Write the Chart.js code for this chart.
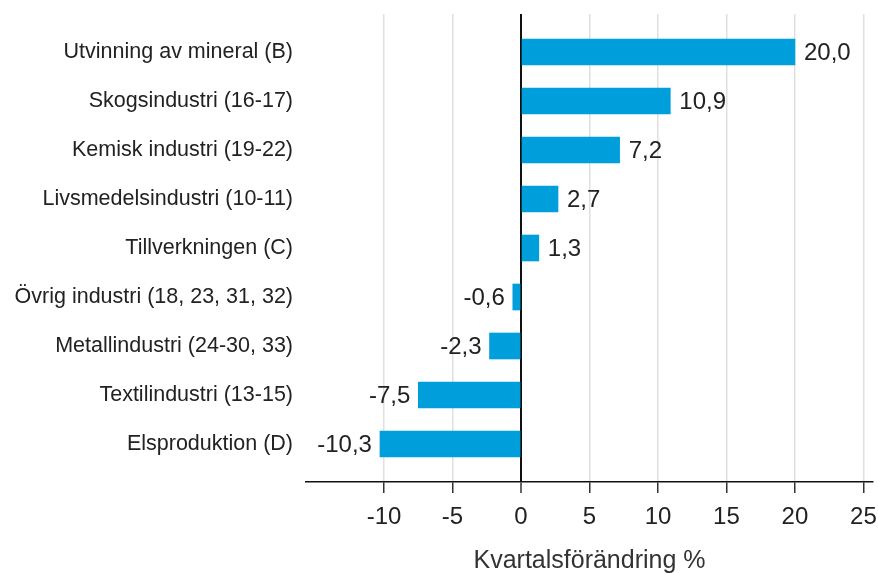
<!DOCTYPE html>
<html>
<head>
<meta charset="utf-8">
<script src="https://cdn.jsdelivr.net/npm/chart.js@4"></script>
<style>
  html, body { margin: 0; padding: 0; background: #fff; }
  #wrap { width: 878px; height: 573px; }
</style>
</head>
<body>
<div id="wrap"><canvas id="chart" width="878" height="573"></canvas></div>
<script>
// data
const categories = [
  "Utvinning av mineral (B)",
  "Skogsindustri (16-17)",
  "Kemisk industri (19-22)",
  "Livsmedelsindustri (10-11)",
  "Tillverkningen (C)",
  "Övrig industri (18, 23, 31, 32)",
  "Metallindustri (24-30, 33)",
  "Textilindustri (13-15)",
  "Elsproduktion (D)"
];
const values = [20.0, 10.9, 7.2, 2.7, 1.3, -0.6, -2.3, -7.5, -10.3];
const xTicks = [-10, -5, 0, 5, 10, 15, 20, 25];
const xTitle = "Kvartalsförändring %";

const FONT = "'Liberation Sans', Arial, sans-serif";
const TEXT = "#222";

function fmt(v) {
  return v.toFixed(1).replace(".", ",");
}

// etiquettes de valeur au bout des barres
const valueLabels = {
  id: "valueLabels",
  afterDatasetsDraw(chart) {
    const ctx = chart.ctx;
    const meta = chart.getDatasetMeta(0);
    ctx.save();
    ctx.font = "24px " + FONT;
    ctx.fillStyle = TEXT;
    ctx.textBaseline = "middle";
    meta.data.forEach((bar, i) => {
      const v = values[i];
      if (v >= 0) {
        ctx.textAlign = "left";
        ctx.fillText(fmt(v), bar.x + 9, bar.y + 1);
      } else {
        ctx.textAlign = "right";
        ctx.fillText(fmt(v), bar.x - 8, bar.y + 1);
      }
    });
    ctx.restore();
  }
};

const ctx = document.getElementById("chart");
const chart = new Chart(ctx, {
  type: "bar",
  data: {
    datasets: [{
      data: values.map((v, i) => ({ x: v, y: i })),
      backgroundColor: "#009fdb",
      barThickness: 26,
      borderWidth: 0
    }]
  },
  options: {
    indexAxis: "y",
    responsive: false,
    animation: false,
    layout: { padding: { top: 14, right: 5, left: 0, bottom: 0 } },
    plugins: {
      legend: { display: false },
      tooltip: { enabled: false }
    },
    scales: {
      x: {
        type: "linear",
        min: -15.7,
        max: 25.7,
        afterBuildTicks(scale) {
          scale.ticks = xTicks.map(v => ({ value: v }));
        },
        afterFit(scale) {
          scale.height = 91;
          scale.paddingLeft = 0;
          scale.paddingRight = 0;
        },
        border: { display: true, color: "#111", width: 1.5 },
        grid: {
          color: (c) => c.tick && c.tick.value === 0 ? "#111" : "#e0e0e0",
          lineWidth: (c) => c.tick && c.tick.value === 0 ? 2 : 1.5,
          drawTicks: true,
          tickLength: 11,
          tickColor: "#333",
          tickWidth: 1.5
        },
        ticks: {
          color: TEXT,
          font: { family: FONT, size: 24 },
          padding: 10,
          maxRotation: 0,
          callback: (v) => String(v)
        },
        title: {
          display: true,
          text: xTitle,
          color: "#333",
          font: { family: FONT, size: 25 },
          padding: { top: 4, bottom: -3 }
        }
      },
      y: {
        type: "linear",
        reverse: true,
        offset: false,
        min: -0.776,
        max: 8.776,
        afterBuildTicks(scale) {
          scale.ticks = categories.map((c, i) => ({ value: i }));
        },
        afterFit(scale) {
          scale.width = 306;
          scale.paddingTop = 0;
          scale.paddingBottom = 0;
        },
        border: { display: false },
        grid: { display: false, drawTicks: false, offset: false },
        ticks: {
          color: TEXT,
          font: { family: FONT, size: 21.5 },
          padding: 13,
          callback: (v) => categories[v]
        }
      }
    }
  },
  plugins: [valueLabels]
});
</script>
</body>
</html>
